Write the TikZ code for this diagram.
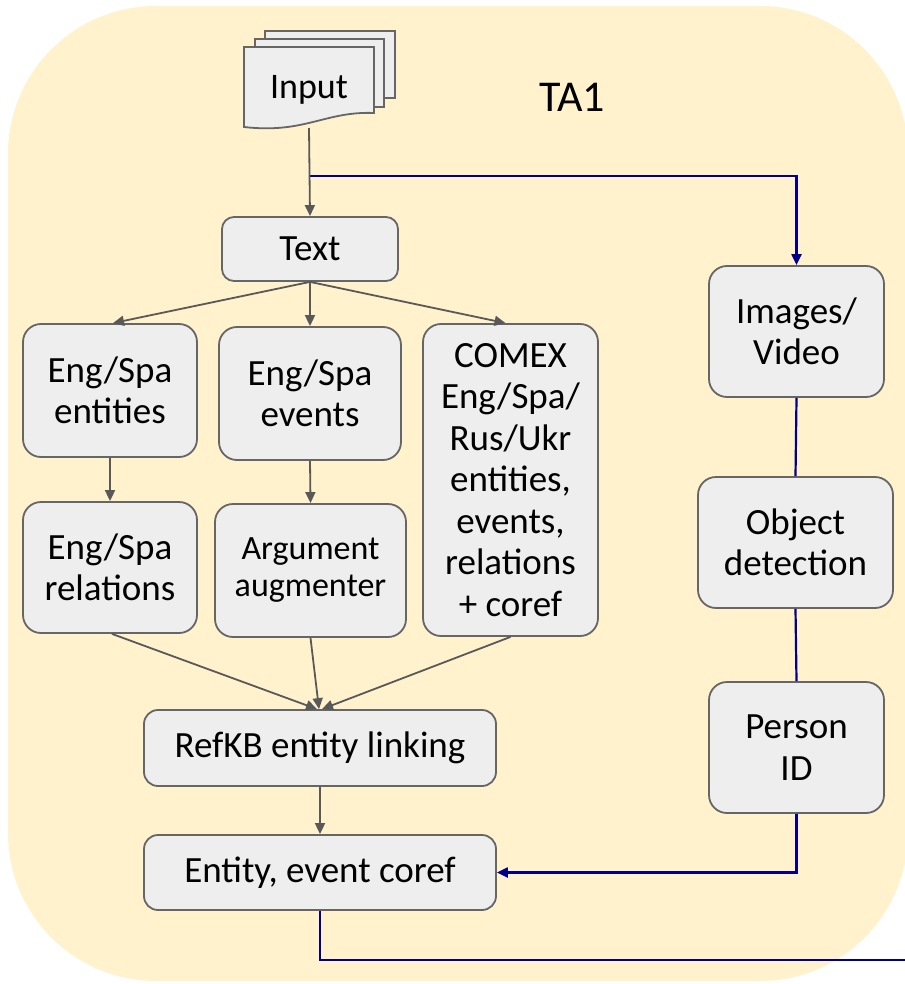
\documentclass[tikz,border=0pt]{standalone}
\usepackage{fontspec}
\setmainfont{Carlito}
\usetikzlibrary{arrows.meta}
\definecolor{bgyellow}{HTML}{FFF2CC}
\definecolor{boxfill}{HTML}{EEEEEE}
\definecolor{boxline}{HTML}{666666}
\definecolor{arrowgray}{HTML}{595959}
\definecolor{flownavy}{HTML}{00008B}
\begin{document}
\begin{tikzpicture}[x=1pt,y=-1pt,
  box/.style={draw=boxline, fill=boxfill, line width=1.8pt, rounded corners=18pt,
    align=center, inner sep=0pt, font=\fontsize{37}{41.5}\selectfont},
  sheet/.style={draw=boxline, fill=boxfill, line width=1.8pt},
  garrow/.style={draw=arrowgray, line width=1.8pt, -{Triangle[length=11pt,width=10pt]}},
  gline/.style={draw=arrowgray, line width=1.8pt},
  bline/.style={draw=flownavy, line width=2.2pt},
  barrow/.style={draw=flownavy, line width=2.2pt, -{Triangle[length=11pt,width=10pt]}},
  label/.style={inner sep=0pt, font=\fontsize{37}{41.5}\selectfont}]
\useasboundingbox (0,0) rectangle (904,984);

% background panel
\fill[bgyellow, rounded corners=148pt] (8,6) rectangle (908,981);

% stacked input documents
\filldraw[sheet] (265,31) rectangle (395,98);
\filldraw[sheet] (255,39) rectangle (384,107);
\filldraw[sheet] (244,47) -- (374,47) -- (374,113)
  .. controls (325,111) and (305,134) .. (244,127) -- cycle;
\node[label, font=\fontsize{36}{41.5}\selectfont] (input) at (309,90) {Input};
\coordinate (inbot) at (309,128);
\coordinate (split) at (309,176);

\node[label, font=\fontsize{44}{50}\selectfont] (ta1) at (572,97) {TA1};

% text pipeline
\node[box, rounded corners=12pt, minimum width=176pt, minimum height=64pt] (text) at (310,249) {Text};
\node[box, minimum width=174pt, minimum height=133pt] (ent) at (110,390.5) {Eng/Spa\\entities};
\node[box, minimum width=182pt, minimum height=133pt] (evt) at (310,393.5) {Eng/Spa\\events};
\node[box, minimum width=175pt, minimum height=312pt] (comex) at (510.5,480)
  {COMEX\\Eng/Spa/\\Rus/Ukr\\entities,\\events,\\relations\\+ coref};
\node[box, minimum width=174pt, minimum height=131pt] (rel) at (110,567.5) {Eng/Spa\\relations};
\node[box, minimum width=191pt, minimum height=133pt, font=\fontsize{34}{37}\selectfont] (arg) at (310.5,570.5)
  {Argument\\augmenter};
\node[box, rounded corners=14pt, minimum width=352pt, minimum height=76pt] (refkb) at (320,748) {RefKB entity linking};
\node[box, rounded corners=14pt, minimum width=352pt, minimum height=75pt] (coref) at (320,872.5) {Entity, event coref};

% image pipeline
\node[box, minimum width=175pt, minimum height=131pt] (img) at (796.5,331.5) {Images/\\Video};
\node[box, minimum width=195pt, minimum height=131pt] (obj) at (795.5,542.5) {Object\\detection};
\node[box, minimum width=175pt, minimum height=131pt] (pid) at (796.5,747.5) {Person\\ID};
\coordinate (exit) at (908,960);

% image flow (navy)
\draw[barrow] (split) -| (img.north);
\draw[bline] (img.south) -- (obj.north);
\draw[bline] (obj.south) -- (pid.north);
\draw[barrow] (pid.south) |- (coref.east);
\draw[bline] (coref.south) |- (exit);

% text flow (gray)
\draw[garrow] (inbot) -- (text.north);
\draw[garrow] (text.south) -- ([xshift=3pt]ent.north);
\draw[garrow] (text.south) -- (evt.north);
\draw[garrow] (text.south) -- ([xshift=-5pt]comex.north);
\draw[garrow] (ent.south) -- (rel.north);
\draw[garrow] (evt.south) -- (arg.north);
\draw[garrow] ([xshift=2pt]rel.south) -- ([xshift=-3pt]refkb.north);
\draw[garrow] (arg.south) -- ([xshift=-1pt]refkb.north);
\draw[garrow] (comex.south) -- ([xshift=2pt]refkb.north);
\draw[garrow] (refkb.south) -- (coref.north);
\end{tikzpicture}
\end{document}
